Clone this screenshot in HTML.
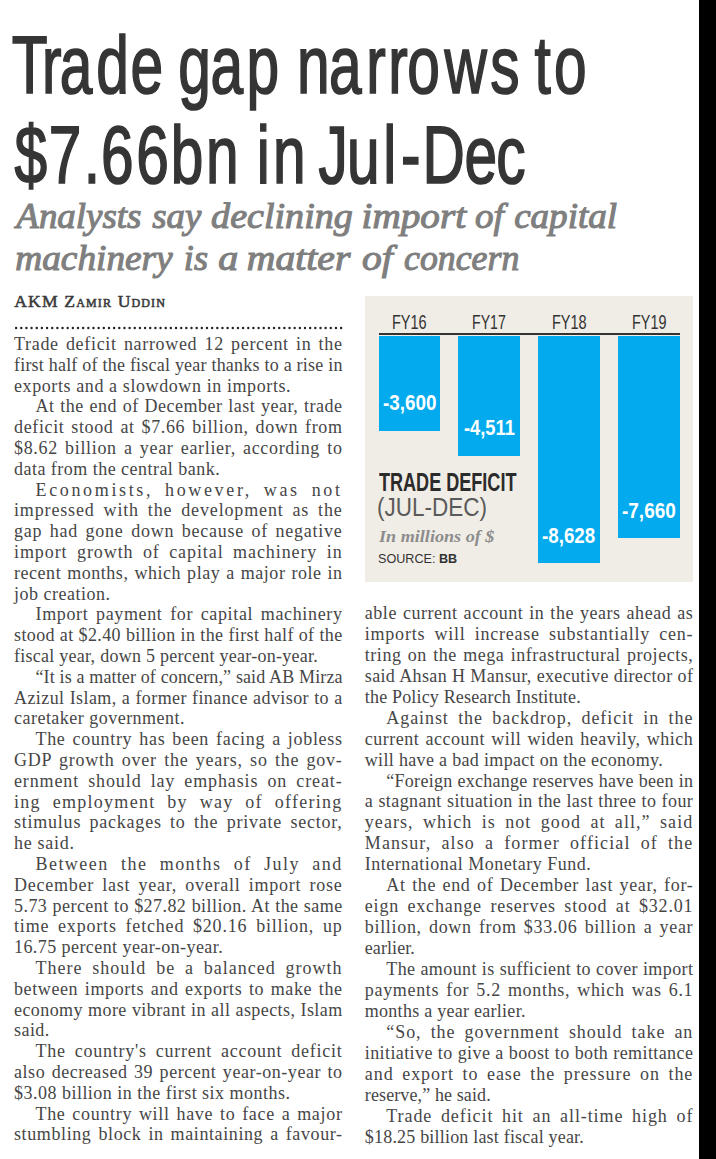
<!DOCTYPE html>
<html><head><meta charset="utf-8"><title>Trade gap narrows to $7.66bn in Jul-Dec</title>
<style>
html,body{margin:0;padding:0;background:#fff;}
body{width:716px;height:1159px;position:relative;overflow:hidden;}
body>div{position:absolute;margin:0;padding:0;line-height:1;}
.sans{font-family:'Liberation Sans', Arial, sans-serif;}
.serif{font-family:'Liberation Serif', 'Times New Roman', serif;color:#464646;}
</style></head><body>
<div style="left:0;top:0;width:716px;height:200px"><svg width="716" height="200" viewBox="0 0 716 200" style="display:block" font-family="Liberation Sans, Arial, sans-serif" font-size="85.0" fill="#353535" stroke="#353535" stroke-width="1.8" stroke-linejoin="miter"><text transform="translate(0 92.55) scale(0.69 0.95)" x="17.04 60.96 86.46 139.39 189.25 237.25 258.23 305.01 357.17 406.17 430.35 476.75 530.75 562.63 590.35 644.07 710.51 754.51 774.59 802.88" y="0">Trade gap narrows to</text><text transform="translate(0 183.44) scale(0.69 0.96)" x="21.07 70.56 121.48 146.36 197.37 247.54 298.61 345.61 372.02 395.49 442.49 461.72 502.96 555.43 581.00 612.49 673.31 719.16" y="0">$7.66bn in Jul-Dec</text></svg></div>
<div style="left:0;top:190px;width:716px;height:95px"><svg width="716" height="95" viewBox="0 190 716 95" style="display:block" font-family="Liberation Serif, Times New Roman, serif" font-style="italic" font-size="35.8" fill="#7f7f7f" stroke="#7f7f7f" stroke-width="1.1"><text y="227.80"><tspan x="16.36" textLength="124.99" lengthAdjust="spacingAndGlyphs">Analysts</tspan> <tspan x="152.30" textLength="48.91" lengthAdjust="spacingAndGlyphs">say</tspan> <tspan x="211.14" textLength="141.66" lengthAdjust="spacingAndGlyphs">declining</tspan> <tspan x="361.61" textLength="104.43" lengthAdjust="spacingAndGlyphs">import</tspan> <tspan x="475.06" textLength="28.85" lengthAdjust="spacingAndGlyphs">of</tspan> <tspan x="514.17" textLength="102.87" lengthAdjust="spacingAndGlyphs">capital</tspan></text><text y="270.40"><tspan x="15.26" textLength="157.40" lengthAdjust="spacingAndGlyphs">machinery</tspan> <tspan x="183.88" textLength="24.12" lengthAdjust="spacingAndGlyphs">is</tspan> <tspan x="218.28" textLength="20.03" lengthAdjust="spacingAndGlyphs">a</tspan> <tspan x="246.89" textLength="103.52" lengthAdjust="spacingAndGlyphs">matter</tspan> <tspan x="362.00" textLength="30.74" lengthAdjust="spacingAndGlyphs">of</tspan> <tspan x="404.10" textLength="115.19" lengthAdjust="spacingAndGlyphs">concern</tspan></text></svg></div>
<div style="left:14.20px;top:292.66px;font-size:17.6px;color:#3a3a3a;-webkit-text-stroke:0.55px #3a3a3a;white-space:nowrap;letter-spacing:1.15px" class="serif">AKM <span style="font-variant:small-caps">Zamir Uddin</span></div>
<div style="left:10px;top:324px;width:340px;height:8px"><svg width="340" height="8" viewBox="0 0 340 8" fill="#222" style="display:block"><circle cx="6.10" cy="4" r="1.2"/><circle cx="11.26" cy="4" r="1.2"/><circle cx="16.42" cy="4" r="1.2"/><circle cx="21.58" cy="4" r="1.2"/><circle cx="26.74" cy="4" r="1.2"/><circle cx="31.89" cy="4" r="1.2"/><circle cx="37.05" cy="4" r="1.2"/><circle cx="42.21" cy="4" r="1.2"/><circle cx="47.37" cy="4" r="1.2"/><circle cx="52.53" cy="4" r="1.2"/><circle cx="57.69" cy="4" r="1.2"/><circle cx="62.85" cy="4" r="1.2"/><circle cx="68.01" cy="4" r="1.2"/><circle cx="73.17" cy="4" r="1.2"/><circle cx="78.33" cy="4" r="1.2"/><circle cx="83.48" cy="4" r="1.2"/><circle cx="88.64" cy="4" r="1.2"/><circle cx="93.80" cy="4" r="1.2"/><circle cx="98.96" cy="4" r="1.2"/><circle cx="104.12" cy="4" r="1.2"/><circle cx="109.28" cy="4" r="1.2"/><circle cx="114.44" cy="4" r="1.2"/><circle cx="119.60" cy="4" r="1.2"/><circle cx="124.76" cy="4" r="1.2"/><circle cx="129.92" cy="4" r="1.2"/><circle cx="135.07" cy="4" r="1.2"/><circle cx="140.23" cy="4" r="1.2"/><circle cx="145.39" cy="4" r="1.2"/><circle cx="150.55" cy="4" r="1.2"/><circle cx="155.71" cy="4" r="1.2"/><circle cx="160.87" cy="4" r="1.2"/><circle cx="166.03" cy="4" r="1.2"/><circle cx="171.19" cy="4" r="1.2"/><circle cx="176.35" cy="4" r="1.2"/><circle cx="181.51" cy="4" r="1.2"/><circle cx="186.66" cy="4" r="1.2"/><circle cx="191.82" cy="4" r="1.2"/><circle cx="196.98" cy="4" r="1.2"/><circle cx="202.14" cy="4" r="1.2"/><circle cx="207.30" cy="4" r="1.2"/><circle cx="212.46" cy="4" r="1.2"/><circle cx="217.62" cy="4" r="1.2"/><circle cx="222.78" cy="4" r="1.2"/><circle cx="227.94" cy="4" r="1.2"/><circle cx="233.10" cy="4" r="1.2"/><circle cx="238.25" cy="4" r="1.2"/><circle cx="243.41" cy="4" r="1.2"/><circle cx="248.57" cy="4" r="1.2"/><circle cx="253.73" cy="4" r="1.2"/><circle cx="258.89" cy="4" r="1.2"/><circle cx="264.05" cy="4" r="1.2"/><circle cx="269.21" cy="4" r="1.2"/><circle cx="274.37" cy="4" r="1.2"/><circle cx="279.53" cy="4" r="1.2"/><circle cx="284.69" cy="4" r="1.2"/><circle cx="289.85" cy="4" r="1.2"/><circle cx="295.00" cy="4" r="1.2"/><circle cx="300.16" cy="4" r="1.2"/><circle cx="305.32" cy="4" r="1.2"/><circle cx="310.48" cy="4" r="1.2"/><circle cx="315.64" cy="4" r="1.2"/><circle cx="320.80" cy="4" r="1.2"/><circle cx="325.96" cy="4" r="1.2"/><circle cx="331.12" cy="4" r="1.2"/></svg></div>
<div style="left:14.00px;top:335.03px;font-size:18.0px;width:328.60px;letter-spacing:0.680px;text-align:justify;text-align-last:justify;white-space:nowrap;" class="serif">Trade deficit narrowed 12 percent in the</div>
<div style="left:14.00px;top:355.83px;font-size:18.0px;width:328.60px;letter-spacing:0.198px;text-align:justify;text-align-last:justify;white-space:nowrap;" class="serif">first half of the fiscal year thanks to a rise in</div>
<div style="left:14.00px;top:376.63px;font-size:18.0px;letter-spacing:0.594px;white-space:nowrap;" class="serif">exports and a slowdown in imports.</div>
<div style="left:35.50px;top:397.43px;font-size:18.0px;width:307.10px;letter-spacing:0.507px;text-align:justify;text-align-last:justify;white-space:nowrap;" class="serif">At the end of December last year, trade</div>
<div style="left:14.00px;top:418.23px;font-size:18.0px;width:328.60px;letter-spacing:0.635px;text-align:justify;text-align-last:justify;white-space:nowrap;" class="serif">deficit stood at $7.66 billion, down from</div>
<div style="left:14.00px;top:439.03px;font-size:18.0px;width:328.60px;letter-spacing:0.669px;text-align:justify;text-align-last:justify;white-space:nowrap;" class="serif">$8.62 billion a year earlier, according to</div>
<div style="left:14.00px;top:459.83px;font-size:18.0px;letter-spacing:0.472px;white-space:nowrap;" class="serif">data from the central bank.</div>
<div style="left:35.50px;top:480.63px;font-size:18.0px;width:307.10px;letter-spacing:2.650px;text-align:justify;text-align-last:justify;white-space:nowrap;" class="serif">Economists, however, was not</div>
<div style="left:14.00px;top:501.43px;font-size:18.0px;width:328.60px;letter-spacing:0.851px;text-align:justify;text-align-last:justify;white-space:nowrap;" class="serif">impressed with the development as the</div>
<div style="left:14.00px;top:522.23px;font-size:18.0px;width:328.60px;letter-spacing:0.750px;text-align:justify;text-align-last:justify;white-space:nowrap;" class="serif">gap had gone down because of negative</div>
<div style="left:14.00px;top:543.02px;font-size:18.0px;width:328.60px;letter-spacing:0.919px;text-align:justify;text-align-last:justify;white-space:nowrap;" class="serif">import growth of capital machinery in</div>
<div style="left:14.00px;top:563.83px;font-size:18.0px;width:328.60px;letter-spacing:0.538px;text-align:justify;text-align-last:justify;white-space:nowrap;" class="serif">recent months, which play a major role in</div>
<div style="left:14.00px;top:584.62px;font-size:18.0px;letter-spacing:0.494px;white-space:nowrap;" class="serif">job creation.</div>
<div style="left:35.50px;top:605.42px;font-size:18.0px;width:307.10px;letter-spacing:0.647px;text-align:justify;text-align-last:justify;white-space:nowrap;" class="serif">Import payment for capital machinery</div>
<div style="left:14.00px;top:626.22px;font-size:18.0px;width:328.60px;letter-spacing:0.375px;text-align:justify;text-align-last:justify;white-space:nowrap;" class="serif">stood at $2.40 billion in the first half of the</div>
<div style="left:14.00px;top:647.02px;font-size:18.0px;letter-spacing:0.263px;white-space:nowrap;" class="serif">fiscal year, down 5 percent year-on-year.</div>
<div style="left:35.50px;top:667.83px;font-size:18.0px;width:307.10px;letter-spacing:0.112px;text-align:justify;text-align-last:justify;white-space:nowrap;" class="serif">“It is a matter of concern,” said AB Mirza</div>
<div style="left:14.00px;top:688.62px;font-size:18.0px;width:328.60px;letter-spacing:0.418px;text-align:justify;text-align-last:justify;white-space:nowrap;" class="serif">Azizul Islam, a former finance advisor to a</div>
<div style="left:14.00px;top:709.42px;font-size:18.0px;letter-spacing:0.479px;white-space:nowrap;" class="serif">caretaker government.</div>
<div style="left:35.50px;top:730.22px;font-size:18.0px;width:307.10px;letter-spacing:0.676px;text-align:justify;text-align-last:justify;white-space:nowrap;" class="serif">The country has been facing a jobless</div>
<div style="left:14.00px;top:751.02px;font-size:18.0px;width:328.60px;letter-spacing:0.757px;text-align:justify;text-align-last:justify;white-space:nowrap;" class="serif">GDP growth over the years, so the gov-</div>
<div style="left:14.00px;top:771.83px;font-size:18.0px;width:328.60px;letter-spacing:0.878px;text-align:justify;text-align-last:justify;white-space:nowrap;" class="serif">ernment should lay emphasis on creat-</div>
<div style="left:14.00px;top:792.62px;font-size:18.0px;width:328.60px;letter-spacing:1.283px;text-align:justify;text-align-last:justify;white-space:nowrap;" class="serif">ing employment by way of offering</div>
<div style="left:14.00px;top:813.42px;font-size:18.0px;width:328.60px;letter-spacing:0.767px;text-align:justify;text-align-last:justify;white-space:nowrap;" class="serif">stimulus packages to the private sector,</div>
<div style="left:14.00px;top:834.23px;font-size:18.0px;letter-spacing:0.702px;white-space:nowrap;" class="serif">he said.</div>
<div style="left:35.50px;top:855.02px;font-size:18.0px;width:307.10px;letter-spacing:1.444px;text-align:justify;text-align-last:justify;white-space:nowrap;" class="serif">Between the months of July and</div>
<div style="left:14.00px;top:875.83px;font-size:18.0px;width:328.60px;letter-spacing:0.757px;text-align:justify;text-align-last:justify;white-space:nowrap;" class="serif">December last year, overall import rose</div>
<div style="left:14.00px;top:896.62px;font-size:18.0px;width:328.60px;letter-spacing:0.440px;text-align:justify;text-align-last:justify;white-space:nowrap;" class="serif">5.73 percent to $27.82 billion. At the same</div>
<div style="left:14.00px;top:917.42px;font-size:18.0px;width:328.60px;letter-spacing:0.817px;text-align:justify;text-align-last:justify;white-space:nowrap;" class="serif">time exports fetched $20.16 billion, up</div>
<div style="left:14.00px;top:938.23px;font-size:18.0px;letter-spacing:0.429px;white-space:nowrap;" class="serif">16.75 percent year-on-year.</div>
<div style="left:35.50px;top:959.02px;font-size:18.0px;width:307.10px;letter-spacing:1.014px;text-align:justify;text-align-last:justify;white-space:nowrap;" class="serif">There should be a balanced growth</div>
<div style="left:14.00px;top:979.83px;font-size:18.0px;width:328.60px;letter-spacing:0.606px;text-align:justify;text-align-last:justify;white-space:nowrap;" class="serif">between imports and exports to make the</div>
<div style="left:14.00px;top:1000.62px;font-size:18.0px;width:328.60px;letter-spacing:0.416px;text-align:justify;text-align-last:justify;white-space:nowrap;" class="serif">economy more vibrant in all aspects, Islam</div>
<div style="left:14.00px;top:1021.42px;font-size:18.0px;letter-spacing:0.450px;white-space:nowrap;" class="serif">said.</div>
<div style="left:35.50px;top:1042.23px;font-size:18.0px;width:307.10px;letter-spacing:0.767px;text-align:justify;text-align-last:justify;white-space:nowrap;" class="serif">The country's current account deficit</div>
<div style="left:14.00px;top:1063.02px;font-size:18.0px;width:328.60px;letter-spacing:0.549px;text-align:justify;text-align-last:justify;white-space:nowrap;" class="serif">also decreased 39 percent year-on-year to</div>
<div style="left:14.00px;top:1083.83px;font-size:18.0px;letter-spacing:0.486px;white-space:nowrap;" class="serif">$3.08 billion in the first six months.</div>
<div style="left:35.50px;top:1104.62px;font-size:18.0px;width:307.10px;letter-spacing:0.683px;text-align:justify;text-align-last:justify;white-space:nowrap;" class="serif">The country will have to face a major</div>
<div style="left:14.00px;top:1125.42px;font-size:18.0px;width:328.60px;letter-spacing:0.606px;text-align:justify;text-align-last:justify;white-space:nowrap;" class="serif">stumbling block in maintaining a favour-</div>
<div style="left:364.80px;top:603.82px;font-size:18.0px;width:328.50px;letter-spacing:0.535px;text-align:justify;text-align-last:justify;white-space:nowrap;" class="serif">able current account in the years ahead as</div>
<div style="left:364.80px;top:624.78px;font-size:18.0px;width:328.50px;letter-spacing:0.770px;text-align:justify;text-align-last:justify;white-space:nowrap;" class="serif">imports will increase substantially cen-</div>
<div style="left:364.80px;top:645.74px;font-size:18.0px;width:328.50px;letter-spacing:0.532px;text-align:justify;text-align-last:justify;white-space:nowrap;" class="serif">tring on the mega infrastructural projects,</div>
<div style="left:364.80px;top:666.70px;font-size:18.0px;width:328.50px;letter-spacing:0.352px;text-align:justify;text-align-last:justify;white-space:nowrap;" class="serif">said Ahsan H Mansur, executive director of</div>
<div style="left:364.80px;top:687.66px;font-size:18.0px;letter-spacing:0.171px;white-space:nowrap;" class="serif">the Policy Research Institute.</div>
<div style="left:386.30px;top:708.62px;font-size:18.0px;width:307.00px;letter-spacing:0.923px;text-align:justify;text-align-last:justify;white-space:nowrap;" class="serif">Against the backdrop, deficit in the</div>
<div style="left:364.80px;top:729.58px;font-size:18.0px;width:328.50px;letter-spacing:0.514px;text-align:justify;text-align-last:justify;white-space:nowrap;" class="serif">current account will widen heavily, which</div>
<div style="left:364.80px;top:750.54px;font-size:18.0px;letter-spacing:0.328px;white-space:nowrap;" class="serif">will have a bad impact on the economy.</div>
<div style="left:386.30px;top:771.50px;font-size:18.0px;width:307.00px;letter-spacing:0.272px;text-align:justify;text-align-last:justify;white-space:nowrap;" class="serif">“Foreign exchange reserves have been in</div>
<div style="left:364.80px;top:792.46px;font-size:18.0px;width:328.50px;letter-spacing:0.424px;text-align:justify;text-align-last:justify;white-space:nowrap;" class="serif">a stagnant situation in the last three to four</div>
<div style="left:364.80px;top:813.42px;font-size:18.0px;width:328.50px;letter-spacing:1.069px;text-align:justify;text-align-last:justify;white-space:nowrap;" class="serif">years, which is not good at all,” said</div>
<div style="left:364.80px;top:834.38px;font-size:18.0px;width:328.50px;letter-spacing:1.107px;text-align:justify;text-align-last:justify;white-space:nowrap;" class="serif">Mansur, also a former official of the</div>
<div style="left:364.80px;top:855.34px;font-size:18.0px;letter-spacing:0.502px;white-space:nowrap;" class="serif">International Monetary Fund.</div>
<div style="left:386.30px;top:876.30px;font-size:18.0px;width:307.00px;letter-spacing:0.637px;text-align:justify;text-align-last:justify;white-space:nowrap;" class="serif">At the end of December last year, for-</div>
<div style="left:364.80px;top:897.26px;font-size:18.0px;width:328.50px;letter-spacing:0.800px;text-align:justify;text-align-last:justify;white-space:nowrap;" class="serif">eign exchange reserves stood at $32.01</div>
<div style="left:364.80px;top:918.22px;font-size:18.0px;width:328.50px;letter-spacing:0.682px;text-align:justify;text-align-last:justify;white-space:nowrap;" class="serif">billion, down from $33.06 billion a year</div>
<div style="left:364.80px;top:939.18px;font-size:18.0px;letter-spacing:0.076px;white-space:nowrap;" class="serif">earlier.</div>
<div style="left:386.30px;top:960.14px;font-size:18.0px;width:307.00px;letter-spacing:0.385px;text-align:justify;text-align-last:justify;white-space:nowrap;" class="serif">The amount is sufficient to cover import</div>
<div style="left:364.80px;top:981.11px;font-size:18.0px;width:328.50px;letter-spacing:0.674px;text-align:justify;text-align-last:justify;white-space:nowrap;" class="serif">payments for 5.2 months, which was 6.1</div>
<div style="left:364.80px;top:1002.06px;font-size:18.0px;letter-spacing:0.270px;white-space:nowrap;" class="serif">months a year earlier.</div>
<div style="left:386.30px;top:1023.02px;font-size:18.0px;width:307.00px;letter-spacing:0.921px;text-align:justify;text-align-last:justify;white-space:nowrap;" class="serif">“So, the government should take an</div>
<div style="left:364.80px;top:1043.98px;font-size:18.0px;width:328.50px;letter-spacing:0.401px;text-align:justify;text-align-last:justify;white-space:nowrap;" class="serif">initiative to give a boost to both remittance</div>
<div style="left:364.80px;top:1064.94px;font-size:18.0px;width:328.50px;letter-spacing:0.951px;text-align:justify;text-align-last:justify;white-space:nowrap;" class="serif">and export to ease the pressure on the</div>
<div style="left:364.80px;top:1085.90px;font-size:18.0px;letter-spacing:0.115px;white-space:nowrap;" class="serif">reserve,” he said.</div>
<div style="left:386.30px;top:1106.87px;font-size:18.0px;width:307.00px;letter-spacing:0.912px;text-align:justify;text-align-last:justify;white-space:nowrap;" class="serif">Trade deficit hit an all-time high of</div>
<div style="left:364.80px;top:1127.83px;font-size:18.0px;letter-spacing:0.195px;white-space:nowrap;" class="serif">$18.25 billion last fiscal year.</div>
<div style="left:365px;top:296px;width:327.5px;height:285.5px;background:#f0ede6"></div>
<div style="left:378.6px;top:332.6px;width:301.4px;height:2px;background:#333"></div>
<div style="left:378.8px;top:336.4px;width:61.3px;height:94.2px;background:#03abee"></div>
<div style="left:458.4px;top:336.4px;width:61.4px;height:119.2px;background:#03abee"></div>
<div style="left:538.4px;top:336.4px;width:61.4px;height:226.2px;background:#03abee"></div>
<div style="left:618.2px;top:336.4px;width:61.5px;height:202.0px;background:#03abee"></div>
<div style="left:392.01px;top:312.01px;font-size:20.9px;color:#333;white-space:nowrap;transform:scaleX(0.6936);transform-origin:0 0" class="sans">FY16</div>
<div style="left:472.45px;top:312.01px;font-size:20.9px;color:#333;white-space:nowrap;transform:scaleX(0.6766);transform-origin:0 0" class="sans">FY17</div>
<div style="left:552.11px;top:312.01px;font-size:20.9px;color:#333;white-space:nowrap;transform:scaleX(0.6936);transform-origin:0 0" class="sans">FY18</div>
<div style="left:632.12px;top:312.01px;font-size:20.9px;color:#333;white-space:nowrap;transform:scaleX(0.6894);transform-origin:0 0" class="sans">FY19</div>
<div style="left:383.13px;top:391.95px;font-size:21.8px;font-weight:bold;color:#fff;white-space:nowrap;transform:scaleX(0.8650);transform-origin:0 0" class="sans">-3,600</div>
<div style="left:464.26px;top:417.45px;font-size:21.8px;font-weight:bold;color:#fff;white-space:nowrap;transform:scaleX(0.8390);transform-origin:0 0" class="sans">-4,511</div>
<div style="left:542.34px;top:525.15px;font-size:21.8px;font-weight:bold;color:#fff;white-space:nowrap;transform:scaleX(0.8600);transform-origin:0 0" class="sans">-8,628</div>
<div style="left:622.33px;top:499.85px;font-size:21.8px;font-weight:bold;color:#fff;white-space:nowrap;transform:scaleX(0.8700);transform-origin:0 0" class="sans">-7,660</div>
<div style="left:378.50px;top:469.56px;font-size:25.8px;font-weight:bold;color:#2b2b2b;white-space:nowrap;transform:scaleX(0.7000);transform-origin:0 0" class="sans">TRADE DEFICIT</div>
<div style="left:377.13px;top:495.30px;font-size:25.4px;color:#5a5a5a;white-space:nowrap;transform:scaleX(0.8868);transform-origin:0 0" class="sans">(JUL-DEC)</div>
<div style="left:378.80px;top:527.58px;font-size:17.1px;font-weight:bold;font-style:italic;color:#8c8c8c;white-space:nowrap;transform:scaleX(1.0606);transform-origin:0 0" class="serif">In millions of $</div>
<div style="left:377.80px;top:553.33px;font-size:12.6px;color:#333;white-space:nowrap;transform:scaleX(1.0013);transform-origin:0 0" class="sans">SOURCE: <b>BB</b></div>
<div style="left:699px;top:0;width:17px;height:1159px;background:#000"></div>
</body></html>
